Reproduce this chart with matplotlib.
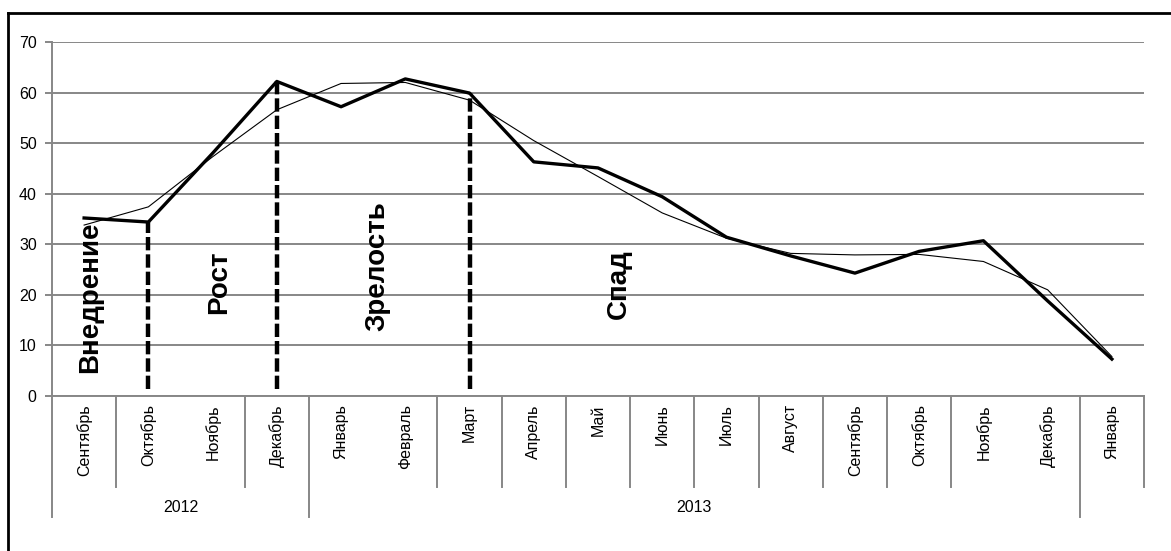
import numpy as np
import matplotlib
matplotlib.use("Agg")
import matplotlib.pyplot as plt
from matplotlib.lines import Line2D

plt.rcParams["font.family"] = ["Liberation Sans", "DejaVu Sans"]

# months Sep 2012 .. Jan 2014
months = ["Сентябрь", "Октябрь", "Ноябрь", "Декабрь", "Январь", "Февраль",
          "Март", "Апрель", "Май", "Июнь", "Июль", "Август", "Сентябрь",
          "Октябрь", "Ноябрь", "Декабрь", "Январь"]
years = ["2012", "2013", ""]
year_counts = [4, 12, 1]

sales = [35.2, 34.4, 48.0, 62.2, 57.2, 62.7, 59.9, 46.3, 45.1, 39.4,
         31.4, 27.7, 24.3, 28.6, 30.7, 18.8, 7.3]
# polynomial trend
trend = [33.8, 37.4, 47.3, 56.6, 61.8, 62.0, 58.5, 50.5, 43.4, 36.2,
         31.2, 28.2, 27.9, 28.0, 26.6, 21.0, 7.8]

# stage borders (month index) and stage names
stage_borders = [1, 3, 6]
stages = ["Внедрение", "Рост", "Зрелость", "Спад"]
stage_pos = [(0.1, 19.6), (2.1, 22.4), (4.57, 25.6), (8.33, 22.1)]

fig = plt.figure(figsize=(11.71, 5.51), dpi=100)
ax = fig.add_axes([52 / 1171, 1 - 396 / 551, (1144 - 52) / 1171, (396 - 42) / 551])

x = np.arange(len(months))
grid_c = "#878787"

ax.set_xlim(-0.5, len(months) - 0.5)
ax.set_ylim(0, 70)
ax.set_yticks(range(0, 71, 10))
ax.yaxis.grid(True, color=grid_c, linewidth=1.4)
ax.set_axisbelow(True)
for s in ["top", "right"]:
    ax.spines[s].set_visible(False)
for s in ["left", "bottom"]:
    ax.spines[s].set_color(grid_c)
    ax.spines[s].set_linewidth(1.4)
ax.tick_params(axis="y", length=5, width=1.4, color=grid_c, labelsize=11.5, pad=6)
ax.tick_params(axis="x", length=0, labelsize=11.5, pad=6)
ax.set_xticks(x)
ax.set_xticklabels(months, rotation=90, va="top")

ax.plot(x, trend, color="black", linewidth=0.8, zorder=3)
ax.plot(x, sales, color="black", linewidth=2.4, solid_joinstyle="round", zorder=4)

for b in stage_borders:
    ax.plot([b, b], [1.3, sales[b]], color="black", linewidth=3.2,
            dashes=(3.0, 0.9), zorder=5)

for name, (tx, ty) in zip(stages, stage_pos):
    ax.text(tx, ty, name, rotation=90, ha="center", va="center",
            fontsize=20, fontweight="bold", zorder=6)

# category separators below the axis
trans = ax.get_xaxis_transform()
skip = {2, 5, 15}
year_edges = np.cumsum([0] + year_counts)
for e in range(len(months) + 1):
    if e in skip:
        continue
    low = -0.342 if (e in year_edges and e != len(months)) else -0.257
    ax.add_line(Line2D([e - 0.5, e - 0.5], [0, low], transform=trans,
                       color=grid_c, linewidth=1.4, clip_on=False))
for i, yr in enumerate(years):
    mid = (year_edges[i] + year_edges[i + 1]) / 2 - 0.5
    ax.text(mid, -0.314, yr, transform=trans, ha="center", va="center",
            fontsize=11.5)

# outer frame (left and top edges visible)
fig.add_artist(Line2D([8 / 1171, 8 / 1171], [0, 1 - 13 / 551],
                      transform=fig.transFigure, color="black", linewidth=2))
fig.add_artist(Line2D([8 / 1171, 1], [1 - 13 / 551, 1 - 13 / 551],
                      transform=fig.transFigure, color="black", linewidth=2))

fig.savefig("out.png", dpi=100)
